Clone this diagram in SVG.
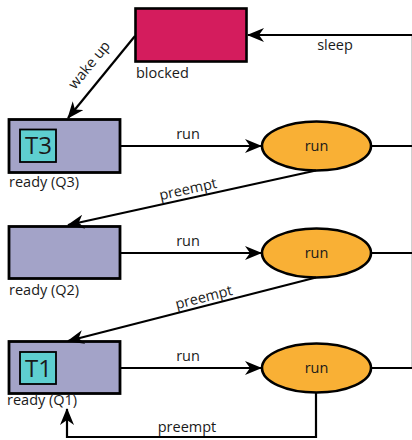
<svg xmlns="http://www.w3.org/2000/svg" width="412" height="440" viewBox="0 0 412 440">
<defs>
<marker id="ah" viewBox="0 0 17 14" refX="16" refY="7" markerWidth="17" markerHeight="14" markerUnits="userSpaceOnUse" orient="auto">
<path d="M0,0 L17,7 L0,14 L5,7 Z" fill="#000"/>
</marker>
<style>
text{font-family:"Open Sans","Noto Sans",sans-serif;font-size:14.5px;fill:#1a1a1a}
.big{font-size:24px}
.ready{fill:#a3a3c8;stroke:#000;stroke-width:2.8}
.tbox{fill:#5ecfd0;stroke:#000;stroke-width:1.8}
.run{fill:#f9b035;stroke:#000;stroke-width:2.6}
.c{fill:none;stroke:#000;stroke-width:2.2}
.m{text-anchor:middle}
</style>
</defs>
<g id="blocked">
<rect x="135.5" y="8.5" width="111" height="53" fill="#d41c5d" stroke="#000" stroke-width="2.6"/>
<text x="136" y="78">blocked</text>
</g>
<g id="readyQ3">
<rect class="ready" x="9" y="119.5" width="111" height="53"/>
<rect class="tbox" x="20" y="129.5" width="36" height="32.5"/>
<text class="big m" x="38.5" y="154">T3</text>
<text x="9" y="187">ready (Q3)</text>
</g>
<g id="readyQ2">
<rect class="ready" x="9" y="226.5" width="111" height="52"/>
<text x="9" y="295">ready (Q2)</text>
</g>
<g id="readyQ1">
<rect class="ready" x="9" y="341.5" width="111" height="52"/>
<rect class="tbox" x="20" y="352" width="36" height="32"/>
<text class="big m" x="38.5" y="377">T1</text>
<text x="7" y="405">ready (Q1)</text>
</g>
<g id="run1">
<ellipse class="run" cx="316.5" cy="146" rx="54.5" ry="24.5"/>
<text class="m" x="316.5" y="151">run</text>
</g>
<g id="run2">
<ellipse class="run" cx="316.5" cy="253" rx="54.5" ry="24.5"/>
<text class="m" x="316.5" y="258">run</text>
</g>
<g id="run3">
<ellipse class="run" cx="316.5" cy="368" rx="54.5" ry="24.5"/>
<text class="m" x="316.5" y="373">run</text>
</g>
<g id="connectors">
<line x1="411.5" y1="35" x2="411.5" y2="368" stroke="#d0d0d0" stroke-width="1"/>
<line class="c" x1="412" y1="35" x2="248" y2="35" marker-end="url(#ah)"/>
<text class="m" x="335" y="50">sleep</text>
<line class="c" x1="135" y1="36" x2="68" y2="118" marker-end="url(#ah)"/>
<text class="m" transform="translate(93,68) rotate(-50.7)">wake up</text>
<line class="c" x1="120" y1="146" x2="261" y2="146" marker-end="url(#ah)"/>
<text class="m" x="188" y="139">run</text>
<line class="c" x1="371" y1="146" x2="412" y2="146"/>
<line class="c" x1="316" y1="170.5" x2="68" y2="225" marker-end="url(#ah)"/>
<text class="m" transform="translate(189,194) rotate(-12.3)">preempt</text>
<line class="c" x1="120" y1="253" x2="261" y2="253" marker-end="url(#ah)"/>
<text class="m" x="188" y="246">run</text>
<line class="c" x1="371" y1="253" x2="412" y2="253"/>
<line class="c" x1="316" y1="277.5" x2="68" y2="341" marker-end="url(#ah)"/>
<text class="m" transform="translate(205,302) rotate(-14.5)">preempt</text>
<line class="c" x1="120" y1="368" x2="261" y2="368" marker-end="url(#ah)"/>
<text class="m" x="188" y="361">run</text>
<line class="c" x1="371" y1="368" x2="412" y2="368"/>
<polyline class="c" points="316,392.5 316,437 67,437 67,409" marker-end="url(#ah)"/>
<text class="m" x="187" y="432">preempt</text>
</g>
</svg>
